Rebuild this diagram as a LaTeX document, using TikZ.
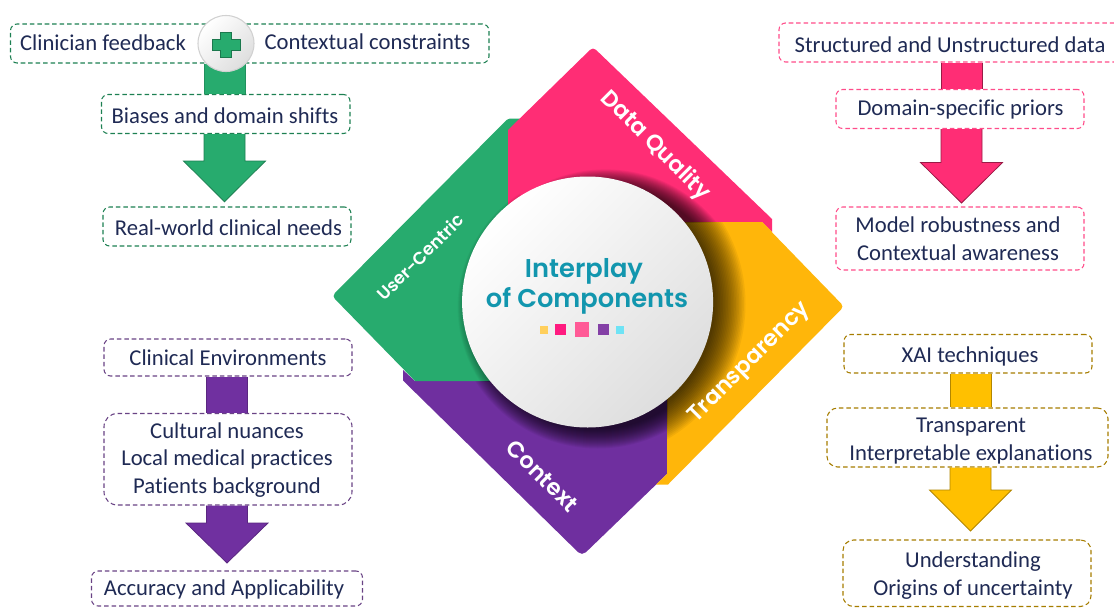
\documentclass[tikz,border=0pt]{standalone}
\usepackage{fontspec}
\setmainfont{Carlito}[Ligatures={NoCommon},Contextuals={NoAlternate}]
\newfontfamily\montf{Poppins SemiBold}
\usetikzlibrary{calc}
\definecolor{cgreen}{HTML}{27AB6E}
\definecolor{cpink}{HTML}{FF2D75}
\definecolor{cyellow}{HTML}{FFB60A}
\definecolor{cpurple}{HTML}{6F2F9F}
\definecolor{ayellow}{HTML}{FFC000}
\definecolor{apurple}{HTML}{7030A0}
\definecolor{navy}{HTML}{1F2A54}
\definecolor{teal1}{HTML}{1296AE}
\definecolor{sqa}{HTML}{FFCF5C}
\definecolor{sqb}{HTML}{FF1B80}
\definecolor{sqc}{HTML}{FF5A96}
\definecolor{sqd}{HTML}{8440A6}
\definecolor{sqe}{HTML}{6FE3F5}
\tikzset{
 sz/.style 2 args={minimum width=#1*0.75pt,minimum height=#2*0.75pt},
 boxbase/.style={rectangle,draw,dash pattern=on 3.4pt off 2.2pt,line width=.8pt,rounded corners=5pt,inner sep=0pt},
 gbox/.style={boxbase,draw=cgreen!75!black},
 pbox/.style={boxbase,draw=cpink!85!white},
 ubox/.style={boxbase,draw=apurple!70!black!85!white},
 ybox/.style={boxbase,draw=ayellow!65!black},
 plain/.style={inner sep=0pt,text=navy,font=\fontsize{17}{20.6}\selectfont,align=center},
 wedge/.style={text=white,inner sep=0pt,font=\montf\fontsize{#1}{#1}\selectfont},
}
\newcommand{\stubarrow}[5]{% from, to, cx, fill, line
  \fill[#4] (#3-20.5,0 |- #1.south) rectangle (#3+20.5,0 |- #2.north);
  \draw[#5,line width=.6pt] (#3-20.5,0 |- #1.south) -- (#3-20.5,0 |- #2.north) (#3+20.5,0 |- #1.south) -- (#3+20.5,0 |- #2.north);}
\newcommand{\bigarrow}[6]{% from, cx, neck y, tip y, fill, line
  \fill[#5] (#2-20.5,0 |- #1.south) -- (#2-20.5,#3) -- (#2-41,#3) -- (#2,#4) -- (#2+41,#3) -- (#2+20.5,#3) -- (#2+20.5,0 |- #1.south) -- cycle;
  \draw[#6,line width=.6pt,line join=miter] (#2-20.5,0 |- #1.south) -- (#2-20.5,#3) -- (#2-41,#3) -- (#2,#4) -- (#2+41,#3) -- (#2+20.5,#3) -- (#2+20.5,0 |- #1.south);}
\newcommand{\shadowin}[5]{% polygon, dx, dy, step, opacity
  \begin{scope}\clip #1;
  \foreach \i in {0,...,19}{\fill[black,opacity=#5] (587.6+#2,302+#3) circle ({(125.5+\i*#4)*0.75pt});}
  \end{scope}}
\newcommand{\polyG}{(520,118.5) [rounded corners=1.5pt] -- (508,118.5) [rounded corners=3pt] -- (332,296) [sharp corners] -- (415,381) -- (520,381) -- cycle}
\newcommand{\polyU}{(403,370) -- (403,380.5) [rounded corners=4pt] -- (582,556) [sharp corners] -- (667,474) -- (667,381) -- (415,381) -- cycle}
\newcommand{\polyY}{(667,222) -- (762,222) [rounded corners=3pt] -- (844,306.5) [sharp corners] -- (668,484.5) -- (656,484.5) -- (667,474) -- cycle}
\newcommand{\polyP}{(508,130) [rounded corners=3pt] -- (593,47) [sharp corners] -- (772,219) -- (772,232) -- (762,222) -- (508,222) -- cycle}
\begin{document}
\begin{tikzpicture}[x=0.75pt,y=-0.75pt]
\clip (0,0) rectangle (1114,607);
\fill[white] (0,0) rectangle (1114,607);
% green column
\node[gbox,sz={478.5}{39}] (g0) at (249.75,43.5) {};
\node[plain] (g0a) at (103,42.5) {Clinician feedback};
\node[plain] (g0b) at (367.5,42) {Contextual constraints};
\node[gbox,sz={248.5}{39}] (g1) at (225.75,114) {};
\node[plain] (g1t) at (225,116) {Biases and domain shifts};
\node[gbox,sz={248}{39}] (g2) at (227,226.5) {};
\node[plain] (g2t) at (228.5,228) {Real-world clinical needs};
\stubarrow{g0}{g1}{224.5}{cgreen}{cgreen!85!black}
\bigarrow{g1}{224.5}{161}{201.7}{cgreen}{cgreen!75!black}
\node[circle,minimum size=42pt,inner sep=0pt,draw=black!18,line width=.8pt,shading=axis,top color=white,bottom color=black!13,shading angle=45] (plusbtn) at (226,43.5) {};
\draw[fill=cgreen,draw=cgreen!70!black,line width=.6pt] (220.5,32) -- (231.5,32) -- (231.5,39) -- (240,39) -- (240,50) -- (231.5,50) -- (231.5,57) -- (220.5,57) -- (220.5,50) -- (212,50) -- (212,39) -- (220.5,39) -- cycle;
% purple column
\node[ubox,sz={248}{37}] (u0) at (228,357.5) {};
\node[plain] (u0t) at (228,358) {Clinical Environments};
\node[ubox,sz={248}{91.5},rounded corners=10pt] (u1) at (228,459.25) {};
\node[plain] (u1t) at (227,460) {Cultural nuances\\Local medical practices\\Patients background};
\node[ubox,sz={271}{35}] (u2) at (227,588.5) {};
\node[plain] (u2t) at (224,589.5) {Accuracy and Applicability};
\stubarrow{u0}{u1}{227}{apurple}{apurple!80!black}
\bigarrow{u1}{227}{523}{563}{apurple}{apurple!80!black}
% pink column
\node[pbox,sz={342}{39}] (p0) at (950,42.5) {};
\node[plain] (p0t) at (950,44.5) {Structured and Unstructured data};
\node[pbox,sz={248}{39}] (p1) at (960,109) {};
\node[plain] (p1t) at (960.5,109.5) {Domain-specific priors};
\node[pbox,sz={248}{63}] (p2) at (960,238.5) {};
\node[plain] (p2t) at (958,238.5) {Model robustness and\\Contextual awareness};
\stubarrow{p0}{p1}{961.5}{cpink}{cpink!60!black}
\bigarrow{p1}{961.5}{162.5}{203}{cpink}{cpink!60!black}
% yellow column
\node[ybox,sz={248}{38.5}] (y0) at (968,353.75) {};
\node[plain] (y0t) at (970,356.5) {XAI techniques};
\node[ybox,sz={281}{59},rounded corners=8pt] (y1) at (967.5,437.5) {};
\node[plain] (y1t) at (971,441) {Transparent\\Interpretable explanations};
\node[ybox,sz={248}{66.5},rounded corners=8pt] (y2) at (967,573.25) {};
\node[plain] (y2t) at (973,575.5) {Understanding\\Origins of uncertainty};
\stubarrow{y0}{y1}{970.5}{ayellow}{ayellow!70!black}
\bigarrow{y1}{970.5}{490}{531}{ayellow}{ayellow!70!black}
% diamond
\fill[cpurple] \polyU;
\fill[cgreen] \polyG;
\fill[cyellow] \polyY;
\fill[cpink] \polyP;
\fill[cyellow] (667,222) -- (762,222) -- (772,232) -- (772,240) -- (667,240) -- cycle;
\shadowin{\polyG}{5}{5}{0.5}{0.02}
\shadowin{\polyU}{10}{2}{1.0}{0.05}
\shadowin{\polyP}{18}{10}{0.9}{0.05}
\shadowin{\polyY}{2}{2}{1.6}{0.05}
\node[circle,minimum size=188.25pt,inner sep=0pt,shading=axis,top color=white,bottom color=black!13,shading angle=45] (hub) at (587.6,302) {};
\node[text=teal1,font=\montf\fontsize{19.3}{19.3}\selectfont,inner sep=0pt] (t1) at (584,271) {Interplay};
\node[text=teal1,font=\montf\fontsize{19.3}{19.3}\selectfont,inner sep=0pt] (t2) at (587,301) {of Components};
\fill[sqa] (540,325.5) rectangle (548,334);
\fill[sqb] (555,324) rectangle (566,335);
\fill[sqc] (575,322) rectangle (589,337);
\fill[sqd] (598,324) rectangle (609,335);
\fill[sqe] (616,326) rectangle (624,334);
\node[wedge=17,rotate=-45] (lq) at (655,146) {Data Quality};
\node[wedge=13,rotate=45] (lu) at (420,257) {User-Centric};
\node[wedge=17,rotate=45] (lt) at (750,363) {Transparency};
\node[wedge=17,rotate=-45] (lc) at (542.5,476) {Context};
\end{tikzpicture}
\end{document}
